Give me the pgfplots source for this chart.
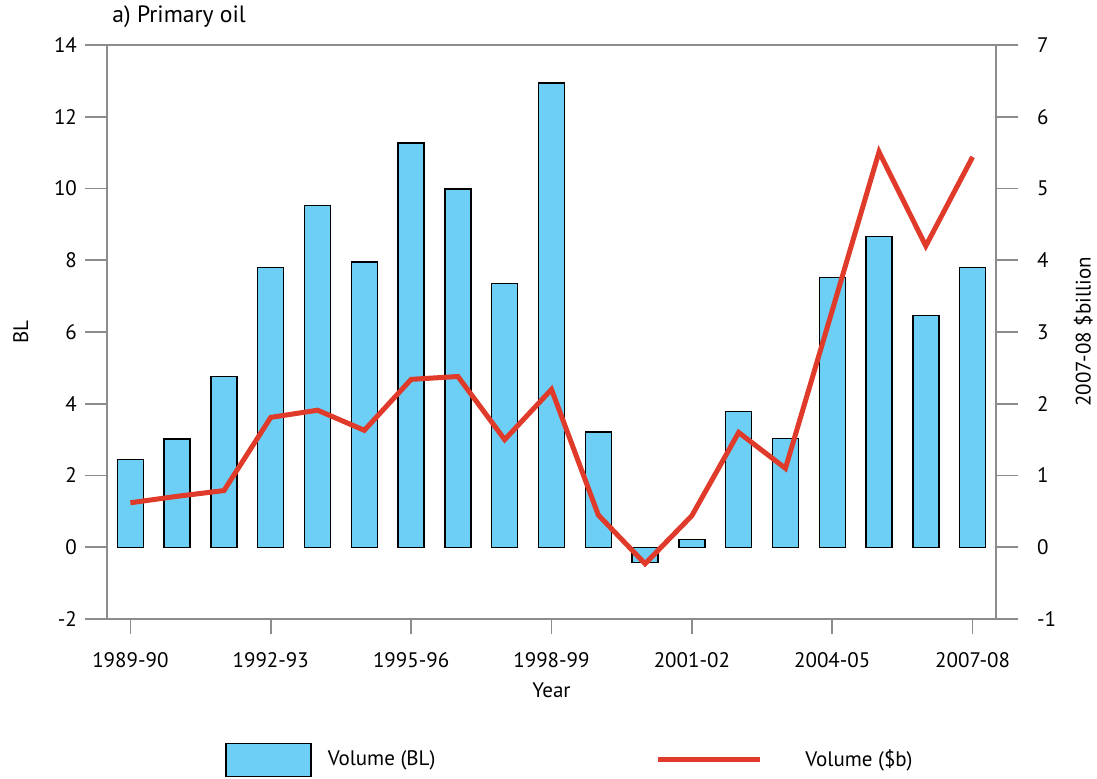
\documentclass[border=0pt]{standalone}
\usepackage{pgfplots}
\pgfplotsset{compat=1.18}
\usepackage{fontspec}
\setmainfont{PT Sans}

\definecolor{barblue}{HTML}{6DCFF6}
\definecolor{linered}{HTML}{E03A2A}
\definecolor{axgray}{HTML}{8C8C8C}

% bars: volume in BL (left axis)
\pgfplotstableread{
x  bl
0  2.45
1  3.02
2  4.76
3  7.79
4  9.52
5  7.95
6  11.27
7  9.99
8  7.36
9  12.94
10 3.21
11 -0.43
12 0.22
13 3.78
14 3.03
15 7.52
16 8.66
17 6.46
18 7.80
}\bltable
% line: volume in 2007-08 $billion (right axis)
\pgfplotstableread{
x  bn
0  0.62
1  0.71
2  0.79
3  1.81
4  1.91
5  1.63
6  2.34
7  2.38
8  1.50
9  2.20
10 0.45
11 -0.23
12 0.44
13 1.60
14 1.10
15 3.30
16 5.51
17 4.20
18 5.44
}\bntable

\begin{document}
\begin{tikzpicture}[font=\fontsize{10.5}{12.6}\selectfont]
\pgfplotsset{
  every axis/.append style={
    scale only axis, width=444.5pt, height=287pt,
    xmin=-0.5, xmax=18.5,
    axis line style={axgray, line width=0.8pt},
    every tick/.style={axgray, line width=0.8pt},
    tick align=outside,
    /pgf/number format/assume math mode=true,
  },
}
\begin{axis}[
    name=ax,
    ymin=-2, ymax=14, ytick={-2,0,...,14},
    major tick length=11pt,
    ytick pos=left, xtick pos=bottom,
    xtick={0,3,...,18},
    xticklabels={1989-90,1992-93,1995-96,1998-99,2001-02,2004-05,2007-08},
    x tick style={/pgfplots/major tick length=7.5pt},
    xticklabel style={yshift=-2pt},
    yticklabel style={xshift=-0.5pt},
    xlabel={Year}, xlabel style={yshift=-1pt},
    ylabel={BL}, ylabel style={yshift=6pt},
    legend style={at={(axis description cs:0.1327,-0.2456)}, anchor=west,
      draw=none, fill=none, inner sep=0pt, legend columns=2,
      /tikz/every even column/.style={column sep=108pt},
      cells={anchor=west}},
]
\addplot[ybar, bar width=13pt, fill=barblue, draw=black, line width=0.7pt,
  legend image code/.code={\draw[fill=barblue, draw=black, line width=0.7pt] (0pt,-8.25pt) rectangle (42.5pt,8.25pt);}]
  table[x=x, y=bl] {\bltable};
\addlegendentry{\hspace{6pt}Volume (BL)}
\addlegendimage{linered, line width=2.5pt,
  legend image code/.code={\draw[linered, line width=2.5pt] (0pt,0pt) -- (51pt,0pt);}}
\addlegendentry{\hspace{19.5pt}Volume (\$b)}
\end{axis}
\begin{axis}[
    ymin=-1, ymax=7, ytick={-1,0,...,7},
    major tick length=11pt,
    axis y line*=right, axis x line=none,
    yticklabel style={xshift=6pt},
    ylabel={2007-08 \$billion}, ylabel style={yshift=-2pt},
]
\addplot[linered, line width=2.5pt] table[x=x, y=bn] {\bntable};
\end{axis}
\node[anchor=base west, inner sep=0pt, font=\fontsize{11.8}{14}\selectfont]
  at ([xshift=2.5pt,yshift=11pt]ax.north west) {a) Primary oil};
\pgfresetboundingbox
\path[use as bounding box] (-53.5pt,-79.5pt) rectangle (495pt,309.5pt);
\end{tikzpicture}
\end{document}
